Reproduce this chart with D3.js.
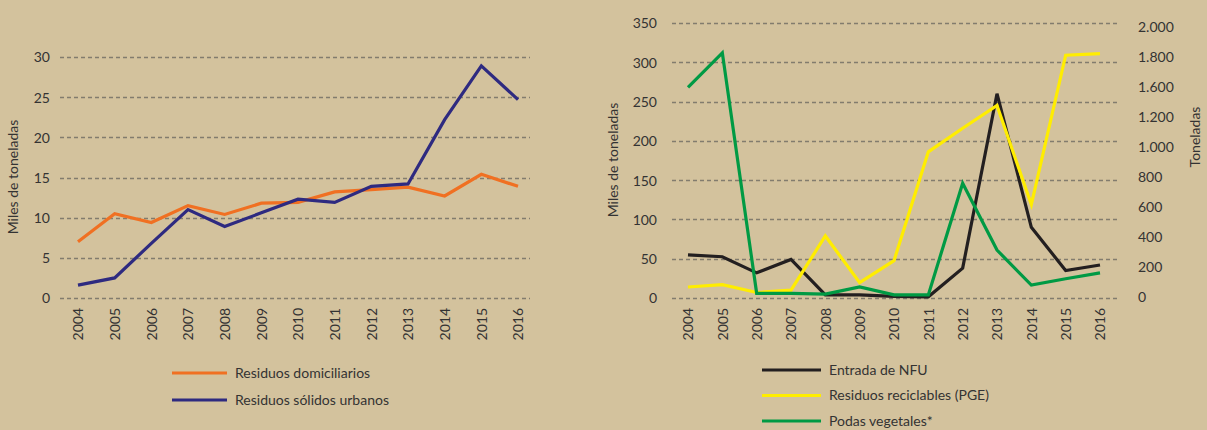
<!DOCTYPE html>
<html>
<head>
<meta charset="utf-8">
<script src="https://cdnjs.cloudflare.com/ajax/libs/d3/7.8.5/d3.min.js"></script>
<style>
  body { margin: 0; background: #d3c29d; }
  svg { display: block; }
  text { font-family: "Liberation Sans Narrow", Lato, sans-serif; fill: #333; }
  .grid line { stroke: #827c6e; stroke-width: 1.6px; stroke-dasharray: 4,3; }
  .line { fill: none; stroke-width: 3.2px; stroke-linejoin: miter; }
</style>
</head>
<body>
<script>
// years shared by both charts
var years = [2004, 2005, 2006, 2007, 2008, 2009, 2010, 2011, 2012, 2013, 2014, 2015, 2016];

// left chart (miles de toneladas)
var domiciliarios = [7.0, 10.5, 9.4, 11.5, 10.4, 11.8, 11.9, 13.2, 13.5, 13.8, 12.7, 15.4, 13.9];
var solidosUrbanos = [1.6, 2.5, 6.8, 11.0, 8.9, 10.6, 12.3, 11.9, 13.9, 14.2, 22.2, 28.9, 24.7];
var leftTicks = [0, 5, 10, 15, 20, 25, 30];

// right chart, read against the left axis (0-350)
var nfu = [55, 52.5, 32, 49, 4, 4, 2, 1.5, 38, 260, 90, 35, 42];
var reciclables = [14, 17, 7, 10, 79, 19.5, 47.5, 186, 216, 245, 119, 309, 311];
var podas = [268, 312, 6, 6, 5, 14, 4, 4, 146, 61, 16.5, 24.5, 32];
var rightLeftTicks = [0, 50, 100, 150, 200, 250, 300, 350];
// labels of the right axis as printed (evenly spaced)
var rightLabels = ["0", "200", "400", "600", "800", "1.000", "1.200", "1.600", "1.800", "2.000"];

var W = 1207, H = 430;
var svg = d3.select("body").append("svg").attr("width", W).attr("height", H);

function drawChart(opt) {
  var x = d3.scalePoint().domain(years).range(opt.xr);
  var y = d3.scaleLinear().domain(opt.yd).range(opt.yr);
  var g = svg.append("g");

  // gridlines
  g.append("g").attr("class", "grid")
    .selectAll("line").data(opt.ticks).enter().append("line")
    .attr("x1", opt.gx[0]).attr("x2", opt.gx[1])
    .attr("y1", function(d) { return Math.round(y(d)) + 0.5; })
    .attr("y2", function(d) { return Math.round(y(d)) + 0.5; });

  // left axis
  var ay = g.append("g").attr("transform", "translate(" + opt.lx + ",0)")
    .call(d3.axisLeft(y).tickValues(opt.ticks).tickSize(0).tickPadding(0));
  ay.select(".domain").remove();
  ay.selectAll("text").style("font-size", "14px").attr("dy", "0.35em");

  // x axis (rotated years)
  var ax = g.append("g").attr("transform", "translate(0," + opt.xy + ")")
    .call(d3.axisBottom(x).tickSize(0));
  ax.select(".domain").remove();
  ax.selectAll("text")
    .style("font-size", "14px")
    .attr("transform", "rotate(-90)")
    .attr("x", 0).attr("y", 0).attr("dy", "0.35em")
    .style("text-anchor", "end");

  // y title
  g.append("text")
    .attr("transform", "translate(" + opt.tx + "," + opt.ty + ") rotate(-90)")
    .attr("text-anchor", "middle")
    .style("font-size", "14px")
    .text("Miles de toneladas");

  var line = d3.line()
    .x(function(d, i) { return x(years[i]); })
    .y(function(d) { return y(d); });

  opt.series.forEach(function(s) {
    g.append("path").datum(s.values)
      .attr("class", "line")
      .attr("stroke", s.color)
      .attr("d", line);
  });

  // legend
  var lg = g.append("g");
  opt.series.forEach(function(s, i) {
    var ly = opt.legY + i * opt.legStep;
    lg.append("line")
      .attr("x1", opt.legX).attr("x2", opt.legX + opt.legLen)
      .attr("y1", ly).attr("y2", ly)
      .attr("stroke", s.color).attr("stroke-width", 3.2);
    lg.append("text")
      .attr("x", opt.legX + opt.legLen + 8).attr("y", ly)
      .attr("dy", "0.35em")
      .style("font-size", "14px")
      .text(s.name);
  });
  return { x: x, y: y, g: g };
}

drawChart({
  xr: [78, 518], yd: [0, 30], yr: [298, 57], ticks: leftTicks,
  gx: [60, 530], lx: 50, xy: 308, tx: 18, ty: 177,
  series: [
    { name: "Residuos domiciliarios", color: "#f07022", values: domiciliarios },
    { name: "Residuos sólidos urbanos", color: "#2e2a80", values: solidosUrbanos }
  ],
  legX: 172, legLen: 55, legY: 373, legStep: 27
});

var right = drawChart({
  xr: [688, 1100], yd: [0, 350], yr: [298, 23], ticks: rightLeftTicks,
  gx: [672, 1117], lx: 657, xy: 308, tx: 618, ty: 160,
  series: [
    { name: "Entrada de NFU", color: "#231f20", values: nfu },
    { name: "Residuos reciclables (PGE)", color: "#ffed00", values: reciclables },
    { name: "Podas vegetales*", color: "#009a44", values: podas }
  ],
  legX: 762, legLen: 59, legY: 370, legStep: 25.5
});

// right axis: labels evenly spaced as printed
var yr2 = d3.scalePoint().domain(rightLabels).range([297, 27]);
var ar = right.g.append("g").attr("transform", "translate(1138,0)")
  .call(d3.axisRight(yr2).tickSize(0).tickPadding(0));
ar.select(".domain").remove();
ar.selectAll("text").style("font-size", "14px").attr("dy", "0.35em");

right.g.append("text")
  .attr("transform", "translate(1195,137) rotate(-90)")
  .attr("text-anchor", "middle")
  .attr("dy", "0.35em")
  .style("font-size", "14px")
  .text("Toneladas");
</script>
</body>
</html>
